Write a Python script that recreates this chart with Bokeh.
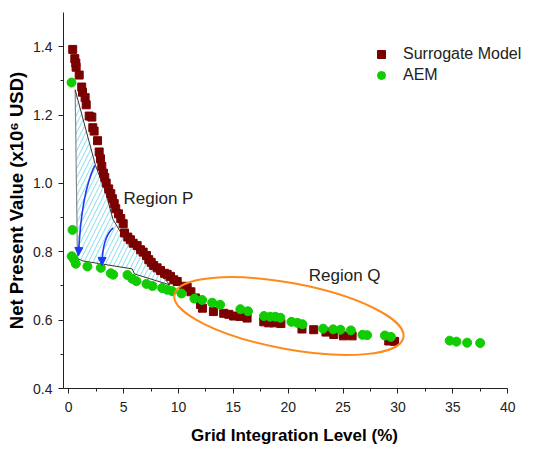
from bokeh.plotting import figure
from bokeh.models import (Range1d, SingleIntervalTicker, NumeralTickFormatter, Legend, LegendItem,
                          Arrow, NormalHead)
from bokeh.core.properties import value
from bokeh.embed import file_html
from bokeh.resources import INLINE

# ---- data ----
sur_x = [0.36, 0.55, 0.64, 0.67, 0.95, 1.18, 1.25, 1.49, 1.59, 1.86, 2.10, 2.19, 2.31, 2.62, 2.77, 2.89,
         3.01, 3.16, 3.28, 3.41, 3.64, 3.83, 3.98, 4.14, 4.28, 4.53, 4.74, 4.96, 5.08, 5.38, 5.62, 5.87,
         6.23, 6.53, 6.78, 7.08, 7.29, 7.51, 7.74, 8.05, 8.36, 8.72, 8.97, 9.27, 9.57, 9.88, 10.48, 10.79,
         11.13, 11.54, 12.0, 12.18, 13.18, 14.12, 14.58, 15.03, 15.6, 16.25, 17.77, 18.22, 18.7, 19.33,
         21.25, 22.32, 23.44, 24.15, 25.03, 25.82, 29.16, 29.69]
sur_y = [1.392, 1.365, 1.352, 1.340, 1.317, 1.282, 1.267, 1.251, 1.230, 1.197, 1.194, 1.163, 1.153, 1.125,
         1.092, 1.072, 1.050, 1.030, 1.017, 1.001, 0.984, 0.970, 0.955, 0.941, 0.926, 0.911, 0.897, 0.882,
         0.855, 0.843, 0.835, 0.825, 0.818, 0.806, 0.799, 0.789, 0.777, 0.769, 0.760, 0.753, 0.745, 0.737,
         0.734, 0.728, 0.718, 0.713, 0.699, 0.696, 0.683, 0.665, 0.646, 0.635, 0.625, 0.620, 0.617, 0.612,
         0.611, 0.606, 0.595, 0.592, 0.592, 0.590, 0.574, 0.572, 0.565, 0.558, 0.554, 0.554, 0.539, 0.538]

aem_x = [0.25, 0.34, 0.27, 0.49, 0.64, 1.70, 2.92, 3.83, 4.05, 5.35, 5.78, 6.17, 7.08, 7.63, 8.51, 8.97,
         9.42, 10.27, 11.45, 12.15, 13.07, 13.79, 15.64, 16.33, 17.79, 18.35, 18.83, 19.29, 20.29, 20.84,
         21.29, 23.18, 24.09, 24.76, 25.71, 26.76, 27.19, 28.81, 29.36, 34.71, 35.33, 36.30, 37.49]
aem_y = [1.295, 0.864, 0.787, 0.777, 0.765, 0.757, 0.753, 0.737, 0.733, 0.732, 0.721, 0.714, 0.706, 0.700,
         0.694, 0.689, 0.685, 0.678, 0.663, 0.659, 0.651, 0.645, 0.632, 0.626, 0.612, 0.610, 0.610, 0.607,
         0.595, 0.592, 0.588, 0.575, 0.573, 0.572, 0.570, 0.557, 0.556, 0.555, 0.551, 0.540, 0.537, 0.534,
         0.533]

# Region P outline
region_x = [0.583, 2.433, 3.317, 4.027, 4.711, 6.989, 9.221, 5.99, 5.78, 1.31, 0.79]
region_y = [1.274, 1.053, 0.979, 0.895, 0.858, 0.783, 0.703, 0.735, 0.750, 0.773, 0.780]

# Arrows (start, control, tip)
arrow_sx = [2.37, 4.05]
arrow_sy = [1.053, 0.870]
arrow_cx = [1.13, 3.05]
arrow_cy = [0.970, 0.842]
arrow_tx = [0.884, 3.03]
arrow_ty = [0.789, 0.760]

# Region Q ellipse
ell_x, ell_y = 20.06, 0.612

labels_text = ["Region P", "Region Q"]
labels_x = [4.99, 21.87]
labels_y = [0.955, 0.731]

FONT = "Liberation Sans"

p = figure(frame_width=462, frame_height=376, output_backend="svg", toolbar_location=None,
           x_range=Range1d(-0.48, 41.62), y_range=Range1d(0.4, 1.5),
           min_border_left=63, min_border_top=12, min_border_right=4, min_border_bottom=50)
p.outline_line_color = None
p.grid.visible = False
p.background_fill_color = "white"

# Region P hatched polygon
p.patch(region_x, region_y, fill_color="white", fill_alpha=1.0, hatch_pattern="/",
        hatch_color="#86DCEE", hatch_scale=9, hatch_weight=1, line_color=None)
p.line(region_x[:1] + region_x[-1:], region_y[:1] + region_y[-1:], line_color="#888888", line_width=1.2)
p.line(region_x, region_y, line_color="#333333", line_width=1)

# squares and circles
r_sur = p.scatter(sur_x, sur_y, marker="square", size=8, fill_color="#7B0000", line_color="#7B0000")
r_aem = p.scatter(aem_x, aem_y, marker="circle", size=9, fill_color="#11CC00", line_color="#11CC00")

# arrows
ARROW_C = "#1F3BF5"
p.quadratic(x0=arrow_sx, y0=arrow_sy, x1=arrow_tx, y1=arrow_ty, cx=arrow_cx, cy=arrow_cy,
            line_color=ARROW_C, line_width=1.6)
for sx, sy, cx, cy, tx, ty in zip(arrow_sx, arrow_sy, arrow_cx, arrow_cy, arrow_tx, arrow_ty):
    f = 0.15
    p.add_layout(Arrow(end=NormalHead(size=8, fill_color=ARROW_C, line_color=ARROW_C),
                       x_start=tx + (cx - tx) * f, y_start=ty + (cy - ty) * f, x_end=tx, y_end=ty,
                       line_color=ARROW_C, line_width=1.6))

# ellipse
p.ellipse(x=[ell_x], y=[ell_y], width=233, height=66, width_units="screen", height_units="screen",
          angle=-0.185, fill_alpha=0, line_color="#FF8A1C", line_width=2)

p.text(labels_x, labels_y, text=labels_text, text_font=value(FONT), text_font_size="17px",
       text_baseline="middle", text_align="left", text_color="#222222")

# axes
for ax in (p.xaxis[0], p.yaxis[0]):
    ax.axis_line_color = "#222222"
    ax.major_tick_line_color = "#222222"
    ax.minor_tick_line_color = "#222222"
    ax.major_tick_out = 5
    ax.major_tick_in = 0
    ax.minor_tick_out = 3
    ax.minor_tick_in = 0
    ax.major_label_text_font = FONT
    ax.major_label_text_font_size = "14px"
    ax.major_label_text_color = "#222222"
    ax.axis_label_text_font = FONT
    ax.axis_label_text_font_style = "bold"
    ax.axis_label_text_color = "#000000"

p.xaxis.axis_label_text_font_size = "17px"
p.yaxis.axis_label_text_font_size = "18.5px"
p.xaxis.ticker = SingleIntervalTicker(interval=5, num_minor_ticks=2)
p.yaxis.ticker = SingleIntervalTicker(interval=0.2, num_minor_ticks=2)
p.yaxis.formatter = NumeralTickFormatter(format="0.0")
p.xaxis.bounds = (-0.48, 40)
p.xaxis.axis_label = "Grid Integration Level (%)"
p.yaxis.axis_label = "Net Present Value (x10\u2076 USD)"
p.xaxis.major_label_standoff = 8
p.yaxis.major_label_standoff = 6
p.xaxis.axis_label_standoff = 11
p.yaxis.axis_label_standoff = 3

legend = Legend(items=[LegendItem(label="Surrogate Model", renderers=[r_sur]),
                       LegendItem(label="AEM", renderers=[r_aem])],
                location=(308, 303), border_line_color=None, background_fill_alpha=0,
                padding=0, margin=0, spacing=1, glyph_width=20, glyph_height=20, label_height=20,
                label_standoff=12, label_text_font=FONT, label_text_font_size="16px",
                label_text_color="#222222")
p.add_layout(legend)

open("out.html", "w").write(file_html(p, INLINE))
